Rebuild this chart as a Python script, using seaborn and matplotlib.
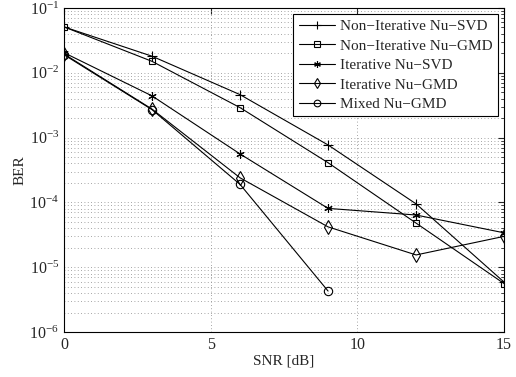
import numpy as np
import pandas as pd
import matplotlib
matplotlib.use("Agg")
import matplotlib.pyplot as plt
from matplotlib.ticker import LogLocator, NullFormatter, FixedLocator
import seaborn as sns

snr = [0, 3, 6, 9, 12, 15]
snr_mixed = [0, 3, 6, 9]

ber_noniter_svd = [0.051, 0.018, 4.6e-3, 7.7e-4, 9.5e-5, 5.9e-6]
ber_noniter_gmd = [0.051, 0.015, 2.9e-3, 4.1e-4, 4.8e-5, 5.6e-6]
ber_iter_svd = [0.0204, 4.4e-3, 5.6e-4, 8.1e-5, 6.4e-5, 3.4e-5]
ber_iter_gmd = [0.0195, 2.75e-3, 2.4e-4, 4.2e-5, 1.55e-5, 3.0e-5]
ber_mixed_gmd = [0.019, 2.7e-3, 1.9e-4, 4.3e-6]

labels = ["Non\u2212Iterative Nu\u2212SVD", "Non\u2212Iterative Nu\u2212GMD",
          "Iterative Nu\u2212SVD", "Iterative Nu\u2212GMD", "Mixed Nu\u2212GMD"]

sns.set_style("white")
plt.rcParams["font.family"] = ["Liberation Serif", "DejaVu Serif"]
plt.rcParams["mathtext.fontset"] = "stix"

fig = plt.figure(figsize=(5.16, 3.77), dpi=100)
ax = fig.add_axes([0.124, 0.119, 0.853, 0.860])

series = [
    (snr, ber_noniter_svd, "+", 7),
    (snr, ber_noniter_gmd, "s", 5),
    (snr, ber_iter_svd, (6, 2, 0), 6),
    (snr, ber_iter_gmd, "d", 7),
    (snr_mixed, ber_mixed_gmd, "o", 6),
]
for (x, y, m, ms), lab in zip(series, labels):
    sns.lineplot(x=x, y=y, ax=ax, color="black", linewidth=0.8, marker=m,
                 markersize=ms, markerfacecolor="none", markeredgecolor="black",
                 markeredgewidth=0.8, label=lab)

ax.set_yscale("log")
ax.set_xlim(0, 15)
ax.set_ylim(1e-6, 1e-1)
ax.xaxis.set_major_locator(FixedLocator([0, 5, 10, 15]))
ax.yaxis.set_major_locator(LogLocator(base=10, numticks=10))
ax.yaxis.set_minor_locator(LogLocator(base=10, subs=np.arange(2, 10), numticks=20))
ax.yaxis.set_minor_formatter(NullFormatter())

ax.grid(True, which="major", axis="both", linestyle=(0, (1, 3)), color="#888888", linewidth=0.6)
ax.grid(True, which="minor", axis="y", linestyle=(0, (1, 3)), color="#888888", linewidth=0.6)

ax.tick_params(which="both", direction="in", top=True, right=True, labelsize=11.5)
ax.tick_params(which="major", length=4)
ax.tick_params(which="minor", length=2)
for s in ax.spines.values():
    s.set_visible(True)
    s.set_color("black")
    s.set_linewidth(0.8)

ax.set_xlabel("SNR [dB]", fontsize=11, labelpad=1)
ax.set_ylabel("BER", fontsize=11, labelpad=2)

leg = ax.legend(loc="upper right", fontsize=11, frameon=True, fancybox=False,
                edgecolor="black", framealpha=1, borderaxespad=0.4,
                handlelength=2.4, handletextpad=0.3, labelspacing=0.38,
                borderpad=0.35, markerscale=0.8)
leg.get_frame().set_linewidth(0.8)

fig.savefig("out.png", dpi=100)
